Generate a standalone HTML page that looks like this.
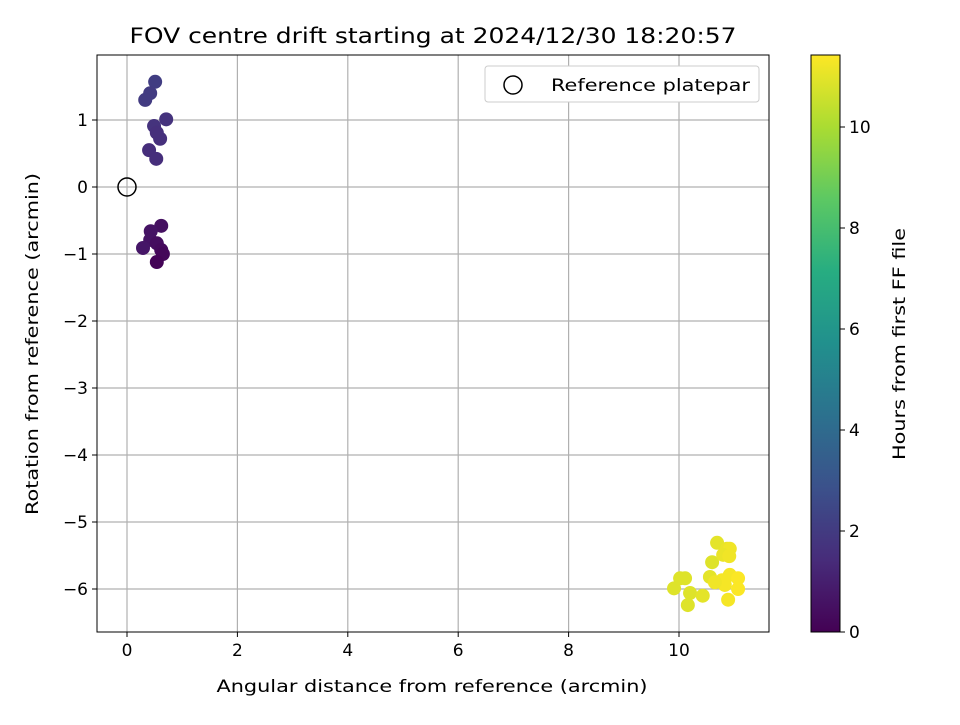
<!DOCTYPE html>
<html><head><meta charset="utf-8"><style>
body{margin:0;background:#fff;font-family:"Liberation Sans","DejaVu Sans",sans-serif}
svg text{font-family:"DejaVu Sans","Liberation Sans",sans-serif;fill:#000}
</style></head><body>
<svg id="c" width="960" height="720" viewBox="0 0 960 720" xmlns="http://www.w3.org/2000/svg">
<defs><linearGradient id="vir" x1="0" y1="1" x2="0" y2="0">
<stop offset="0" stop-color="#440154"/><stop offset="0.125" stop-color="#472c7a"/><stop offset="0.25" stop-color="#3b518b"/><stop offset="0.375" stop-color="#2c718e"/><stop offset="0.5" stop-color="#21908d"/><stop offset="0.625" stop-color="#27ad81"/><stop offset="0.75" stop-color="#5cc863"/><stop offset="0.875" stop-color="#aadc32"/><stop offset="1" stop-color="#fde725"/></linearGradient></defs>
<text x="433" y="43" font-size="21" text-anchor="middle" textLength="607" lengthAdjust="spacingAndGlyphs">FOV centre drift starting at 2024/12/30 18:20:57</text>
<g id="grid"></g><g id="pts"></g><g id="axes"></g>
<rect x="811" y="55" width="29" height="577" fill="url(#vir)" stroke="#000" stroke-width="1"/>
<g id="cbar"></g>
<text x="432" y="692" font-size="17" text-anchor="middle" textLength="431" lengthAdjust="spacingAndGlyphs">Angular distance from reference (arcmin)</text>
<text transform="translate(38,344) rotate(-90)" font-size="17" text-anchor="middle" textLength="342" lengthAdjust="spacingAndGlyphs">Rotation from reference (arcmin)</text>
<text transform="translate(905,344) rotate(-90)" font-size="17" text-anchor="middle" textLength="232" lengthAdjust="spacingAndGlyphs">Hours from first FF file</text>
<g>
<rect x="485" y="66" width="274" height="36" rx="3" fill="#fff" stroke="#ccc"/>
<circle cx="513" cy="85" r="9" fill="none" stroke="#000" stroke-width="1.5"/>
<text x="551" y="91" font-size="17" textLength="199" lengthAdjust="spacingAndGlyphs">Reference platepar</text>
</g>
</svg>
<script>
const xs=[0.51,0.42,0.33,0.49,0.71,0.54,0.60,0.40,0.53,0.62,0.43,0.42,0.54,0.29,0.62,0.65,0.54,10.69,10.87,10.92,10.60,10.80,10.91,10.56,10.02,10.11,9.91,10.20,10.43,10.16,10.78,10.92,11.07,11.07,10.89,10.83,10.65];
const ys=[1.57,1.40,1.30,0.91,1.01,0.81,0.72,0.55,0.42,-0.58,-0.66,-0.79,-0.84,-0.91,-0.94,-1.0,-1.12,-5.31,-5.40,-5.40,-5.60,-5.49,-5.51,-5.82,-5.84,-5.84,-5.99,-6.06,-6.10,-6.24,-5.87,-5.79,-5.84,-6.00,-6.16,-5.94,-5.90];
const hours=[2.1,2.0,2.0,1.7,1.7,1.6,1.6,1.5,1.5,0.5,0.6,0.6,0.4,0.7,0.3,0.2,0.1,11.0,11.1,11.2,10.9,11.1,11.2,11.0,10.9,10.9,10.9,10.9,11.0,10.9,11.3,11.3,11.4,11.4,11.3,11.3,11.2];
const xTicks=[0,2,4,6,8,10];
const yTicks=[1,0,-1,-2,-3,-4,-5,-6];
const cTicks=[0,2,4,6,8,10];
const X0=97,X1=769,Y0=55,Y1=632;
const xs_=v=>127+v*55.2, ys_=v=>187-v*67.0, cs_=v=>632-v*50.5;
const NS='http://www.w3.org/2000/svg';
function mk(t,a,p){const e=document.createElementNS(NS,t);for(const k in a)e.setAttribute(k,a[k]);p.appendChild(e);return e;}
const vs=['#440154','#472c7a','#3b518b','#2c718e','#21908d','#27ad81','#5cc863','#aadc32','#fde725'];
function vir(t){t=Math.max(0,Math.min(1,t))*8;const i=Math.min(7,Math.floor(t)),f=t-i;const a=vs[i],b=vs[i+1];let r='#';for(let k=1;k<7;k+=2){const c=Math.round(parseInt(a.substr(k,2),16)*(1-f)+parseInt(b.substr(k,2),16)*f);r+=c.toString(16).padStart(2,'0');}return r;}
const g=document.getElementById('grid'),ax=document.getElementById('axes'),pt=document.getElementById('pts'),cb=document.getElementById('cbar');
xTicks.forEach(v=>{const x=xs_(v);
const l=mk('line',{x1:x,x2:x,y1:Y0,y2:Y1,stroke:'#b0b0b0','stroke-width':1.2},g);

mk('line',{x1:x,x2:x,y1:Y1,y2:Y1+5,stroke:'#000'},ax);
const t=mk('text',{x:x,y:Y1+24,'font-size':17,'text-anchor':'middle'},ax);t.textContent=v;
});
yTicks.forEach(v=>{const y=ys_(v);
const l=mk('line',{x1:X0,x2:X1,y1:y,y2:y,stroke:'#b0b0b0','stroke-width':1.2},g);

mk('line',{x1:X0-5,x2:X0,y1:y,y2:y,stroke:'#000'},ax);
const t=mk('text',{x:X0-9,y:y+6,'font-size':17,'text-anchor':'end'},ax);t.textContent=v<0?'\u2212'+(-v):v;
});
const fr=mk('rect',{x:X0,y:Y0,width:X1-X0,height:Y1-Y0,fill:'none',stroke:'#000'},ax);

xs.forEach((v,i)=>{const c=mk('circle',{cx:xs_(v),cy:ys_(ys[i]),r:7,fill:vir(hours[i]/11.43)},pt);
});
const rf=mk('circle',{cx:xs_(0),cy:ys_(0),r:9,fill:'none',stroke:'#000','stroke-width':1.5},pt);

cTicks.forEach(v=>{const y=cs_(v);
mk('line',{x1:840,x2:845,y1:y,y2:y,stroke:'#000'},cb);
const t=mk('text',{x:849,y:y+6,'font-size':17},cb);t.textContent=v;
});
</script>
</body></html>
